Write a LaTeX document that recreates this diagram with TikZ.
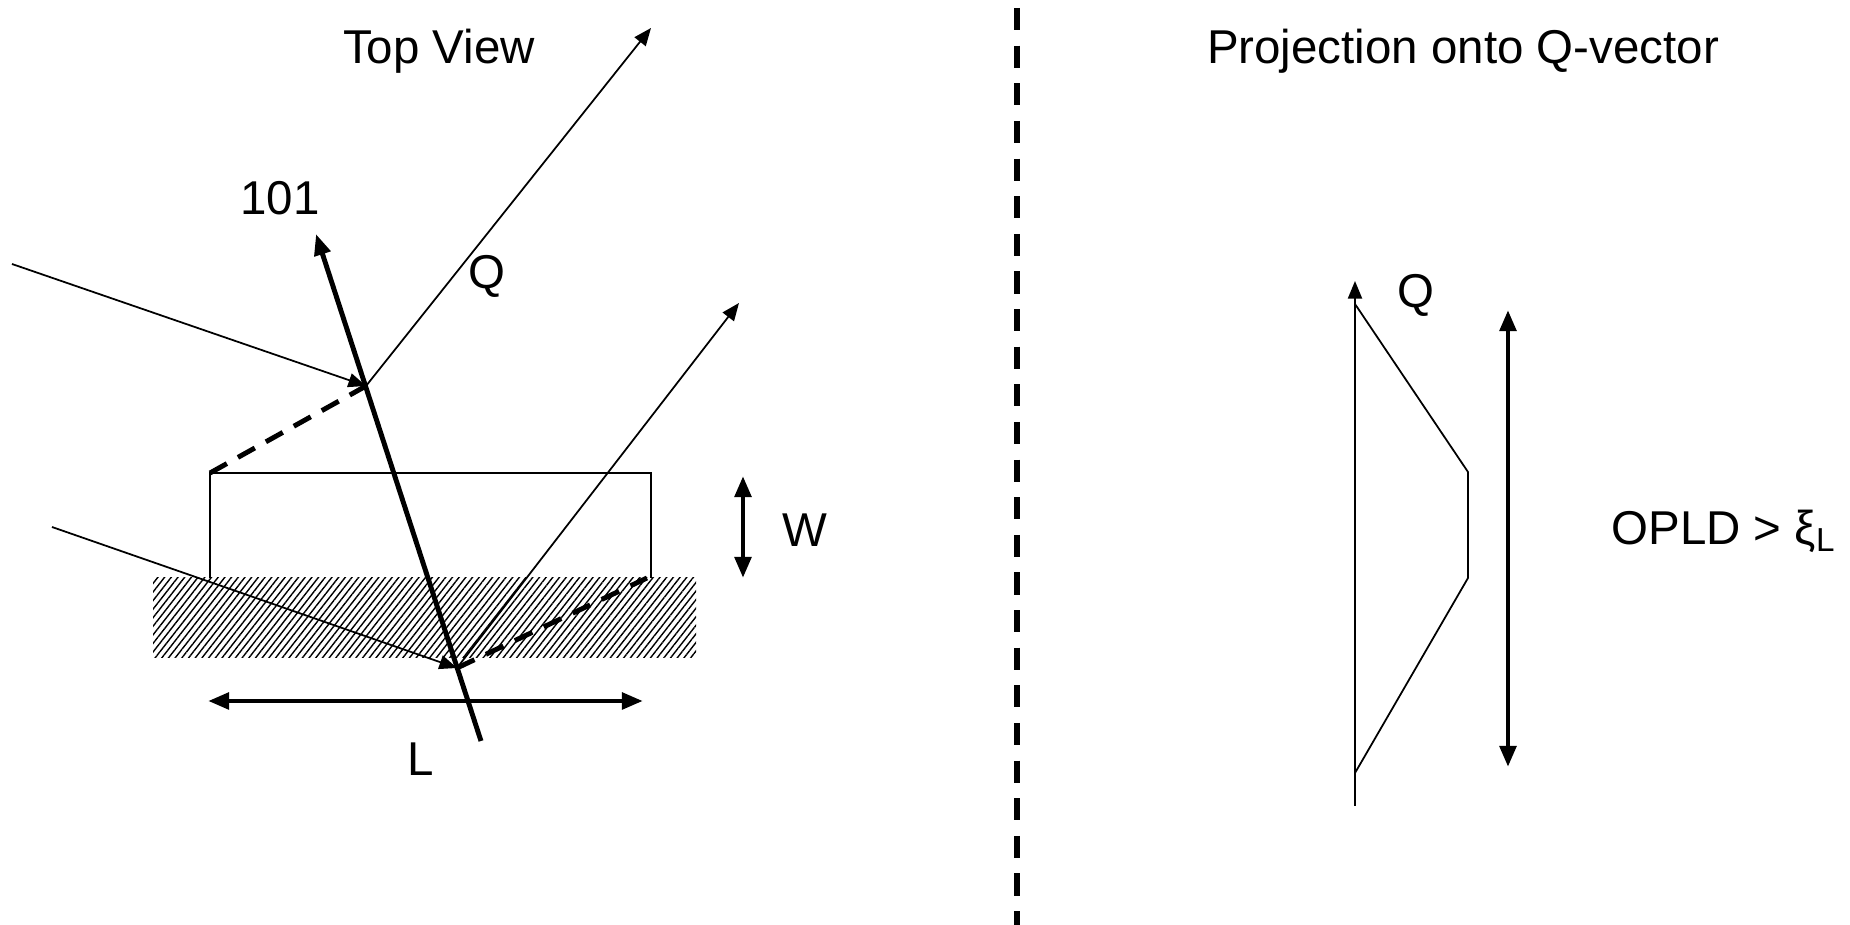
\documentclass[tikz,border=0pt]{standalone}
\usepackage{fontspec}
\setmainfont{Liberation Sans}
\usepackage{tikz}
\usetikzlibrary{arrows.meta, patterns.meta, positioning}
\tikzstyle{caption} = [font=\fontsize{13.5}{16}\selectfont, inner sep=0pt]
\tikzstyle{ray} = [line width=0.5pt, -{Triangle[length=5pt, width=4pt]}]
\tikzstyle{pole} = [line width=1.4pt, -{Triangle[length=6pt, width=4.6pt]}]
\tikzstyle{span} = [line width=1.4pt, {Triangle[length=6pt, width=4.6pt]}-{Triangle[length=6pt, width=4.6pt]}]
\tikzstyle{edge} = [line width=0.5pt]
\tikzstyle{dashline} = [line width=1.4pt, dash pattern=on 5.5pt off 3.6pt]
\tikzstyle{divider} = [line width=1.6pt, dash pattern=on 6.3pt off 4.4pt]

\begin{document}
\begin{tikzpicture}[x=0.01cm, y=-0.01cm]
\useasboundingbox (0,0) rectangle (1850,925);

% hatched substrate
\fill [pattern={Lines[angle=52, distance=1.5pt, line width=0.4pt]}] (153,578) rectangle (696,658);

% top view points
\coordinate (hitA) at (366,386);
\coordinate (hitB) at (457,668);
\coordinate (base) at (481,741);
\coordinate (tip) at (316,234);
\coordinate (inA) at (12,264);
\coordinate (inB) at (52,527);
\coordinate (outA) at (651,28);
\coordinate (outB) at (739,303);
\coordinate (corner) at (210,473);
\coordinate (cornerR) at (647,578);
\coordinate (lleft) at (208,701);
\coordinate (lright) at (643,701);
\coordinate (wtop) at (743,476);
\coordinate (wbot) at (743,578);

\node (top) [caption] at (439,51) {Top View};
\node (hkl) [caption] at (280,198) {101};
\node (qa) [caption] at (487,276) {Q};
\node (len) [caption] at (421,759) {L};
\node (wid) [caption] at (805,530) {W};

\draw [edge] (210,578) -- (corner) -- (651,473) -- (651,578);
\draw [ray] (inA) -- (hitA);
\draw [ray] (hitA) -- (outA);
\draw [ray] (inB) -- (hitB);
\draw [ray] (hitB) -- (outB);
\draw [dashline] (corner) -- (hitA);
\draw [dashline] (hitB) -- (cornerR);
\draw [pole] (base) -- (tip);
\draw [span] (lleft) -- (lright);
\draw [span] (wtop) -- (wbot);

% divider
\draw [divider] (1017,8) -- (1017,925);

% projection
\coordinate (qfoot) at (1355,806);
\coordinate (qhead) at (1355,281);
\coordinate (qtop) at (1355,304);
\coordinate (qlow) at (1355,773);
\coordinate (otop) at (1508,310);
\coordinate (obot) at (1508,767);
\node (proj) [caption] at (1463,51) {Projection onto Q-vector};
\node (qb) [caption] at (1416,295) {Q};
\node (opld) [caption] at (1724,531) {OPLD > ξ\textsubscript{L}};

\draw [ray] (qfoot) -- (qhead);
\draw [edge] (qtop) -- (1468,472) -- (1468,578) -- (qlow);
\draw [span] (obot) -- (otop);
\end{tikzpicture}
\end{document}
